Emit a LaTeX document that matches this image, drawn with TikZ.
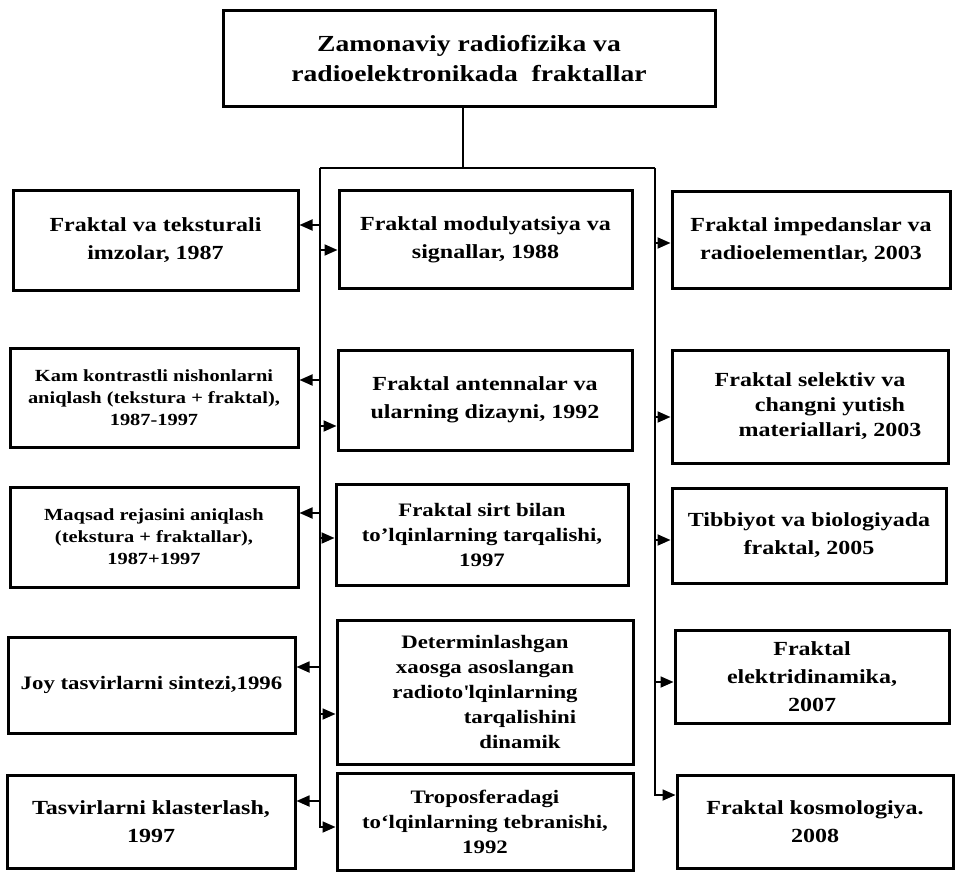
\documentclass[tikz,border=0pt]{standalone}
\usepackage{fontspec}
\setmainfont{Liberation Serif}[FakeStretch=1.2]
\usetikzlibrary{arrows.meta}
\tikzset{
  bx/.style={draw, line width=3pt, inner sep=0pt, align=center,
    font=\bfseries\fontsize{20}{28}\selectfont},
  fsm/.style={font=\bfseries\fontsize{17}{22}\selectfont},
  fmd/.style={font=\bfseries\fontsize{19}{25}\selectfont},
  ftitle/.style={font=\bfseries\fontsize{23}{30}\selectfont},
  bus/.style={line width=1.8pt},
  arr/.style={line width=1.8pt, -{Triangle[length=13pt,width=11pt]}}
}
\begin{document}
\begin{tikzpicture}[x=1pt,y=-1pt]
\path[use as bounding box, fill=white] (0,0) rectangle (957,874);
% top
\node[bx, ftitle, minimum width=492pt, minimum height=96pt] (T) at (469,59)
  {Zamonaviy radiofizika va\\radioelektronikada\ \ fraktallar};
% left column
\node[bx, minimum width=285pt, minimum height=99pt] (L1) at (155.5,240.5)
  {Fraktal va teksturali\\imzolar, 1987};
\node[bx, fsm, minimum width=288pt, minimum height=99pt] (L2) at (154,397.5)
  {Kam kontrastli nishonlarni\\aniqlash (tekstura + fraktal),\\1987-1997};
\node[bx, fsm, minimum width=288pt, minimum height=100pt] (L3) at (154,537)
  {Maqsad rejasini aniqlash\\(tekstura + fraktallar),\\1987+1997};
\node[bx, fmd, minimum width=287pt, minimum height=96pt] (L4) at (151.5,685)
  {Joy tasvirlarni sintezi,1996};
\node[bx, minimum width=288pt, minimum height=93pt] (L5) at (151,821.5)
  {Tasvirlarni klasterlash,\\1997};
% middle column
\node[bx, minimum width=293pt, minimum height=97pt] (M1) at (485.5,239.5)
  {Fraktal modulyatsiya va\\signallar, 1988};
\node[bx, minimum width=294pt, minimum height=100pt] (M2) at (485,400)
  {Fraktal antennalar va\\ularning dizayni, 1992};
\node[bx, fmd, minimum width=292pt, minimum height=101pt] (M3) at (482,534.5)
  {Fraktal sirt bilan\\to’lqinlarning tarqalishi,\\1997};
\node[bx, fmd, minimum width=296pt, minimum height=144pt] (M4) at (485,692)
  {Determinlashgan\\xaosga asoslangan\\radioto\textquotesingle lqinlarning\\\hspace*{70pt}tarqalishini\\\hspace*{70pt}dinamik};
\node[bx, fmd, minimum width=296pt, minimum height=97pt] (M5) at (485,821.5)
  {Troposferadagi\\to‘lqinlarning tebranishi,\\1992};
% right column
\node[bx, minimum width=278pt, minimum height=96pt] (R1) at (811,240)
  {Fraktal impedanslar va\\radioelementlar, 2003};
\node[bx, minimum width=276pt, minimum height=113pt, font=\bfseries\fontsize{20}{25}\selectfont] (R2) at (810,406.5)
  {Fraktal selektiv va\\\hspace*{40pt}changni yutish\\\hspace*{40pt}materiallari, 2003};
\node[bx, minimum width=274pt, minimum height=95pt] (R3) at (809,535.5)
  {Tibbiyot va biologiyada\\fraktal, 2005};
\node[bx, minimum width=274pt, minimum height=93pt] (R4) at (812,676.5)
  {Fraktal\\elektridinamika,\\2007};
\node[bx, minimum width=276pt, minimum height=93pt] (R5) at (815,821.5)
  {Fraktal kosmologiya.\\2008};
% buses
\coordinate (J) at (463,168);
\coordinate (BL) at (320,168);
\coordinate (BR) at (655,168);
\coordinate (BLe) at (320,827);
\coordinate (BRe) at (655,795);
\draw[bus] (T.south -| J) -- (J);
\draw[bus] (BL) -- (BR);
\draw[arr] (BL) -- (BLe) -- (BLe -| M5.west);
\draw[arr] (BR) -- (BRe) -- (BRe -| R5.west);
% taps to left boxes
\foreach \n/\yy in {L1/225,L2/380,L3/513,L4/667,L5/801}{
  \coordinate (a\n) at (320,\yy);
  \draw[arr] (a\n) -- (a\n -| \n.east);
}
% taps to middle boxes
\foreach \n/\yy in {M1/250,M2/426,M3/538,M4/714}{
  \coordinate (a\n) at (320,\yy);
  \draw[arr] (a\n) -- (a\n -| \n.west);
}
% taps to right boxes
\foreach \n/\yy in {R1/243,R2/417,R3/540,R4/682}{
  \coordinate (a\n) at (655,\yy);
  \draw[arr] (a\n) -- (a\n -| \n.west);
}
\end{tikzpicture}
\end{document}
